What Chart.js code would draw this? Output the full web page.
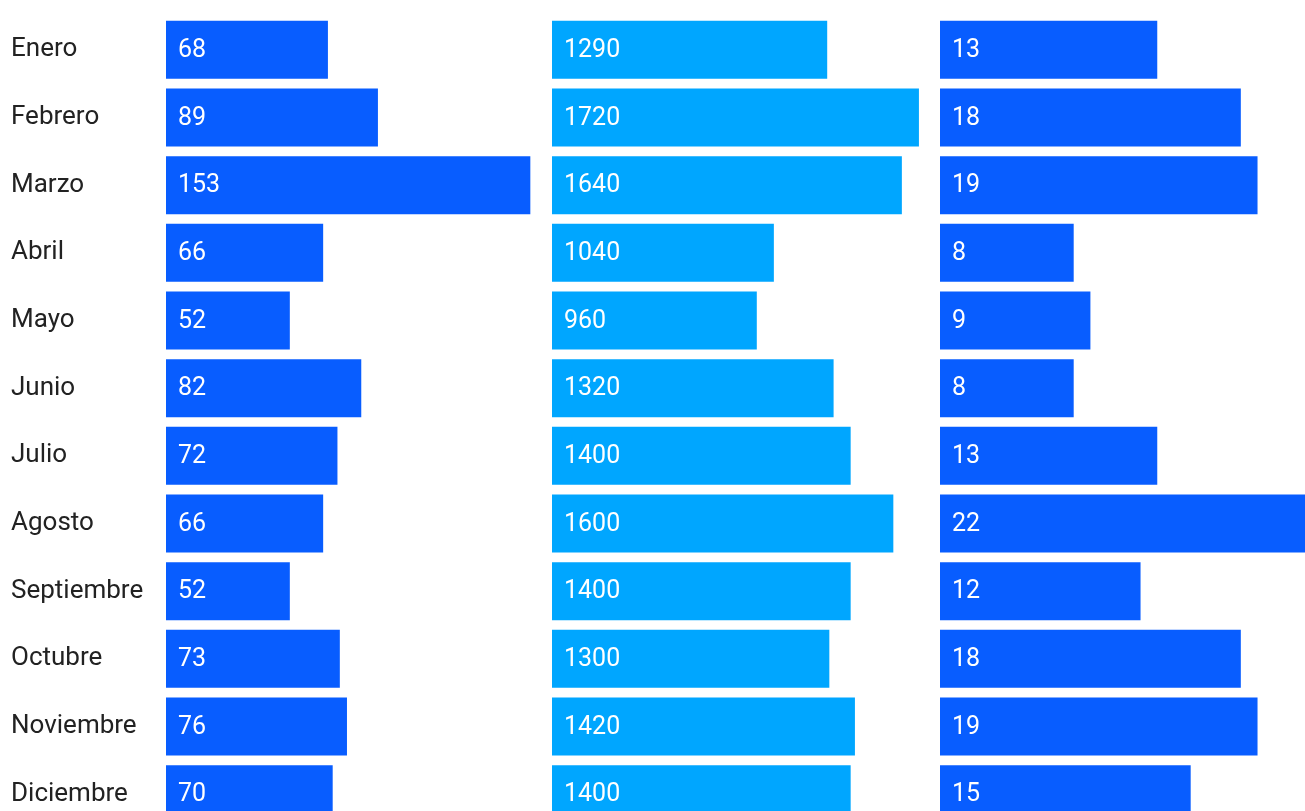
<!DOCTYPE html>
<html>
<head>
<meta charset="utf-8">
<script src="https://cdn.jsdelivr.net/npm/chart.js@4.4.1/dist/chart.umd.min.js"></script>
<style>
    html, body { margin: 0; padding: 0; background: #fff; overflow: hidden; }
    #wrap { position: relative; width: 1305px; height: 811px; overflow: hidden; }
    .panel { position: absolute; top: 0; height: 828px; }
</style>
</head>
<body>
<div id="wrap">
    <div class="panel" style="left:0; width:547px;"><canvas id="c1"></canvas></div>
    <div class="panel" style="left:552px; width:384px;"><canvas id="c2"></canvas></div>
    <div class="panel" style="left:940px; width:366px;"><canvas id="c3"></canvas></div>
</div>
<script>
const months = ['Enero', 'Febrero', 'Marzo', 'Abril', 'Mayo', 'Junio', 'Julio', 'Agosto', 'Septiembre', 'Octubre', 'Noviembre', 'Diciembre'];
const seriesA = [68, 89, 153, 66, 52, 82, 72, 66, 52, 73, 76, 70];
const seriesB = [1290, 1720, 1640, 1040, 960, 1320, 1400, 1600, 1400, 1300, 1420, 1400];
const seriesC = [13, 18, 19, 8, 9, 8, 13, 22, 12, 18, 19, 15];

const FONT = 'Roboto, "Noto Sans", sans-serif';

// draws the value inside each bar, near its base
const insideLabels = {
    id: 'insideLabels',
    afterDatasetsDraw(chart) {
        const ctx = chart.ctx;
        const meta = chart.getDatasetMeta(0);
        const values = chart.data.datasets[0].data;
        ctx.save();
        ctx.font = '25px ' + FONT;
        ctx.fillStyle = '#ffffff';
        ctx.textAlign = 'left';
        ctx.textBaseline = 'middle';
        meta.data.forEach((bar, i) => {
            ctx.fillText(String(values[i]), bar.base + 12, bar.y + 1);
        });
        ctx.restore();
    }
};

function makeChart(id, data, color, xMax, showLabels) {
    return new Chart(document.getElementById(id), {
        type: 'bar',
        data: {
            labels: months,
            datasets: [{
                data: data,
                backgroundColor: color,
                borderWidth: 0,
                categoryPercentage: 1,
                barPercentage: 0.857
            }]
        },
        options: {
            indexAxis: 'y',
            responsive: true,
            maintainAspectRatio: false,
            animation: false,
            layout: { padding: { top: 16, bottom: 0, left: showLabels ? 11 : 0, right: 0 } },
            plugins: { legend: { display: false }, tooltip: { enabled: false } },
            scales: {
                x: { display: false, min: 0, max: xMax },
                y: {
                    display: showLabels,
                    grid: { display: false },
                    border: { display: false },
                    afterFit(scale) {
                        if (!showLabels) return;
                        scale.width = 155;
                        // keep label overhang from shrinking the rows
                        scale.paddingTop = 0;
                        scale.paddingBottom = 0;
                    },
                    ticks: {
                        crossAlign: 'far',
                        padding: 0,
                        color: '#222222',
                        font: { family: FONT, size: 26 }
                    }
                }
            }
        },
        plugins: [insideLabels]
    });
}

makeChart('c1', seriesA, '#085dff', 160, true);
makeChart('c2', seriesB, '#00a6ff', 1800, false);
makeChart('c3', seriesC, '#085dff', 21.9, false);
</script>
</body>
</html>
